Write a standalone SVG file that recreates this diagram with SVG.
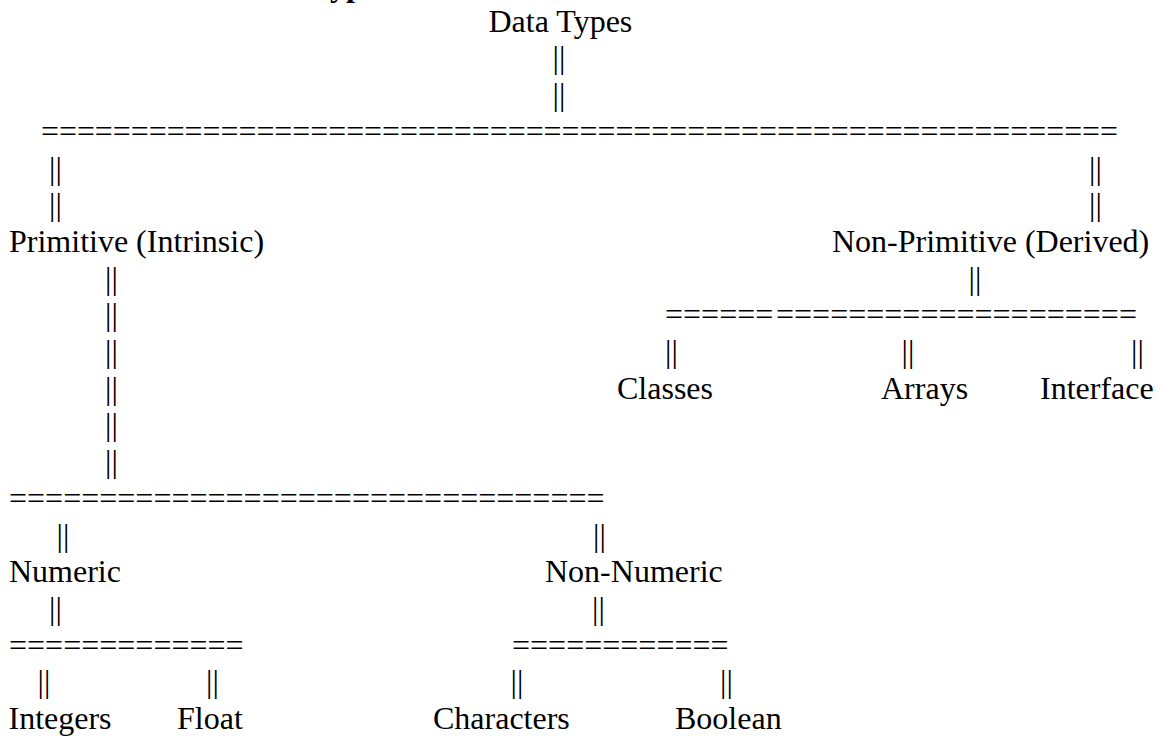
<svg xmlns="http://www.w3.org/2000/svg" width="1159" height="736" viewBox="0 0 1159 736">
<style>
text{font-family:"Liberation Serif","Times New Roman",serif;font-size:32px;fill:#000}
.t{font-weight:bold}
</style>
<rect width="1159" height="736" fill="#fff"/>
<text class="t" x="311" y="-4.5">Types</text>
<g id="connectors">
<text x="552.5" y="68.4">||</text>
<text x="552.5" y="105.1">||</text>
<text x="41" y="141.8" textLength="1077" lengthAdjust="spacingAndGlyphs">============================================================</text>
<text x="49" y="178.5">||</text><text x="1089" y="178.5">||</text>
<text x="49" y="215.2">||</text><text x="1089" y="215.2">||</text>
<text x="105" y="288.6">||</text><text x="968.5" y="288.6">||</text>
<text x="105" y="325.3">||</text><text x="665" y="325.3">======</text><text x="776" y="325.3">====================</text>
<text x="105" y="362">||</text><text x="665" y="362">||</text><text x="901.5" y="362">||</text><text x="1131" y="362">||</text>
<text x="105" y="398.7">||</text>
<text x="105" y="435.4">||</text>
<text x="105" y="472.1">||</text>
<text x="9" y="508.8">=================================</text>
<text x="56.5" y="545.5">||</text><text x="593" y="545.5">||</text>
<text x="49" y="618.9">||</text><text x="592" y="618.9">||</text>
<text x="9" y="655.6">=============</text><text x="512" y="655.6">============</text>
<text x="37.5" y="692.3">||</text><text x="206" y="692.3">||</text><text x="510.5" y="692.3">||</text><text x="720" y="692.3">||</text>
</g>
<g id="data-types"><text x="488.5" y="31.7">Data Types</text></g>
<g id="primitive"><text x="9" y="251.9">Primitive (Intrinsic)</text></g>
<g id="non-primitive"><text x="832" y="251.9">Non-Primitive (Derived)</text></g>
<g id="classes"><text x="617" y="398.7">Classes</text></g>
<g id="arrays"><text x="881" y="398.7">Arrays</text></g>
<g id="interface"><text x="1040" y="398.7">Interface</text></g>
<g id="numeric"><text x="9" y="582.2">Numeric</text></g>
<g id="non-numeric"><text x="545" y="582.2">Non-Numeric</text></g>
<g id="integers"><text x="8.5" y="729">Integers</text></g>
<g id="float"><text x="177" y="729">Float</text></g>
<g id="characters"><text x="433" y="729">Characters</text></g>
<g id="boolean"><text x="675" y="729">Boolean</text></g>
</svg>
